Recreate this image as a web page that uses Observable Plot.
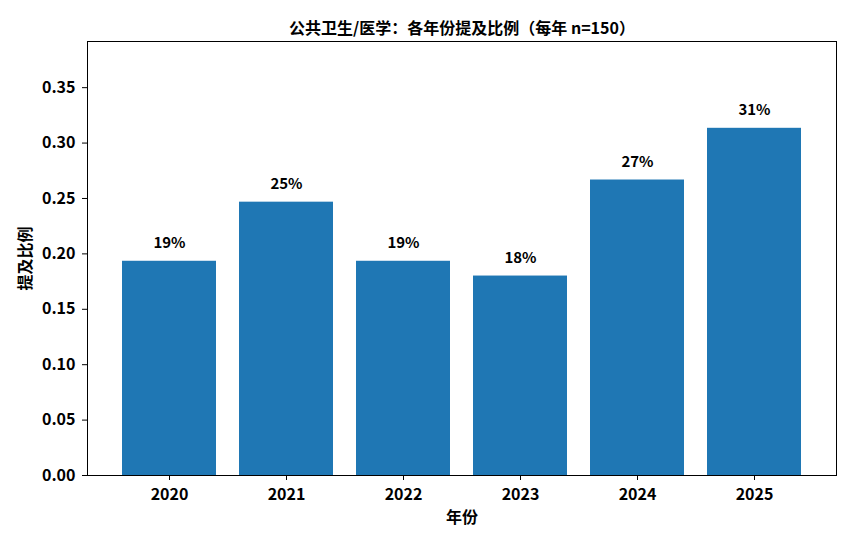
<!DOCTYPE html>
<html lang="zh-CN">
<head>
<meta charset="utf-8">
<script src="https://cdn.jsdelivr.net/npm/d3@7"></script>
<script src="https://cdn.jsdelivr.net/npm/@observablehq/plot@0.6"></script>
<style>
  html, body { margin: 0; padding: 0; background: #fff; }
  svg { font-family: "Noto Sans CJK SC", "Noto Sans", sans-serif; font-weight: bold; }
</style>
</head>
<body>
<div id="chart"></div>
<script>
const years = ["2020", "2021", "2022", "2023", "2024", "2025"];
const shares = [29/150, 37/150, 29/150, 27/150, 40/150, 47/150];
const yTicks = [0, 0.05, 0.10, 0.15, 0.20, 0.25, 0.30, 0.35];
const titleText = "公共卫生/医学：各年份提及比例（每年 n=150）";
const xLabel = "年份";
const yLabel = "提及比例";

const data = years.map((y, i) => ({year: y, value: shares[i], label: Math.round(shares[i] * 100) + "%"}));
const yMax = d3.max(shares) * 1.25;

const chart = Plot.plot({
  width: 854,
  height: 545,
  marginLeft: 87,
  marginRight: 18,
  marginTop: 41,
  marginBottom: 70,
  style: {fontFamily: '"Noto Sans CJK SC", sans-serif', fontSize: "16px", fontWeight: "bold", background: "#fff"},
  x: {type: "band", domain: years, paddingInner: 0.2, paddingOuter: 0.29},
  y: {domain: [0, yMax]},
  marks: [
    Plot.barY(data, {x: "year", y: "value", fill: "#1f77b4"}),
    Plot.text(data, {x: "year", y: "value", text: "label", dy: -18, fontSize: 15, fontWeight: "bold", fill: "black"}),
    Plot.axisY({ticks: yTicks, tickFormat: d3.format(".2f"), tickSize: 5, tickPadding: 7, fontSize: 16, label: yLabel, labelAnchor: "center", labelArrow: "none", labelOffset: 68}),
    Plot.axisX({tickSize: 5, tickPadding: 8, fontSize: 16, label: xLabel, labelAnchor: "center", labelArrow: "none", labelOffset: 47}),
    Plot.frame({stroke: "black", strokeWidth: 1}),
    Plot.text([titleText], {text: d => d, frameAnchor: "top", dy: -19, fontSize: 16, fontWeight: "bold", fontFamily: '"Noto Sans CJK TC", "Noto Sans CJK SC", sans-serif', fill: "black"})
  ]
});
document.getElementById("chart").appendChild(chart);
</script>
</body>
</html>
